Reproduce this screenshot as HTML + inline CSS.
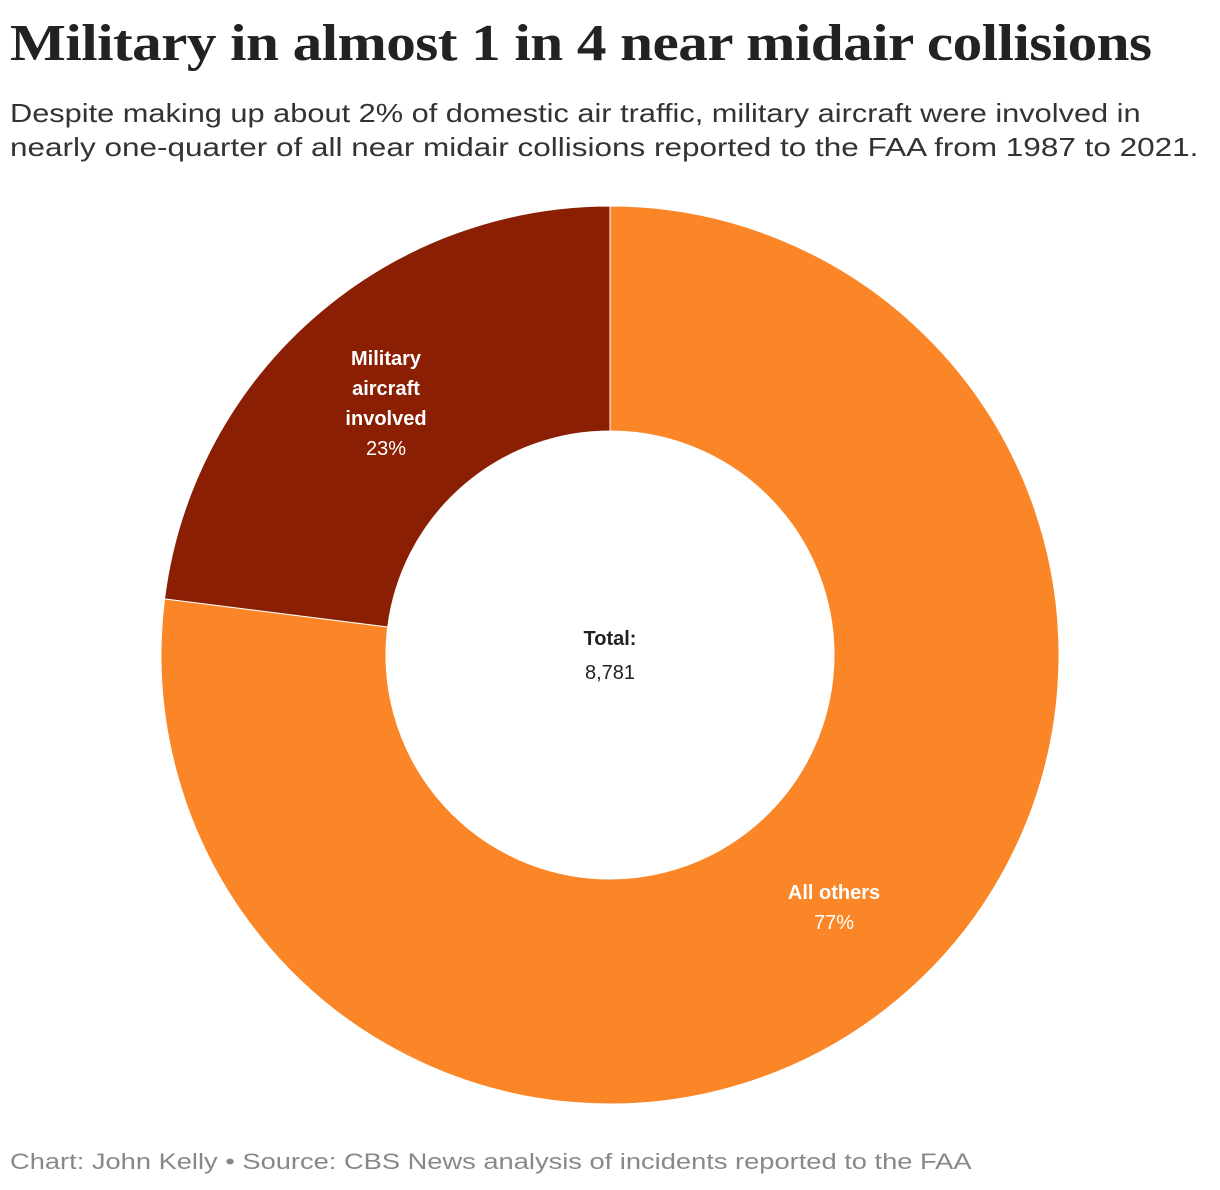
<!DOCTYPE html>
<html><head><meta charset="utf-8"><style>
body{margin:0;width:1220px;height:1190px;background:#fff;font-family:"Liberation Sans",sans-serif;position:relative;overflow:hidden}
h1{position:absolute;left:10px;top:14px;margin:0;font-family:"Liberation Serif",serif;font-weight:bold;font-size:52px;letter-spacing:-0.5px;color:#222;white-space:nowrap;transform-origin:left top}
.sub{position:absolute;left:10px;top:96px;font-size:26px;line-height:34px;color:#333}
.sub span{display:block;white-space:nowrap;transform-origin:left top}
.foot{position:absolute;left:10px;top:1149px;font-size:22px;color:#888;white-space:nowrap;transform-origin:left top}
svg{position:absolute;left:0;top:0}
</style></head><body>
<h1 id="t">Military in almost 1 in 4 near midair collisions</h1>
<div class="sub"><span id="s1">Despite making up about 2% of domestic air traffic, military aircraft were involved in</span><span id="s2">nearly one-quarter of all near midair collisions reported to the FAA from 1987 to 2021.</span></div>
<svg id="chart" width="1220" height="1190"></svg>
<div class="foot" id="f">Chart: John Kelly • Source: CBS News analysis of incidents reported to the FAA</div>
<script>
const categories=["All others","Military aircraft involved"];
const values=[6761,2020];
const colors=["#fb8628","#8a1f03"];
const cx=610,cy=655,R=449,r=224;
const svg=document.getElementById('chart');
const NS="http://www.w3.org/2000/svg";
const total=values.reduce((a,b)=>a+b,0);
function fit(id,w){const e=document.getElementById(id);e.style.transform='scaleX('+(w/e.scrollWidth)+')';}
fit('t',1142);fit('s1',1160);fit('s2',1188);fit('f',962);
function pt(a,rad){return [cx+rad*Math.sin(a),cy-rad*Math.cos(a)];}
let start=0;
values.forEach((v,i)=>{
  const sweep=v/total*2*Math.PI,end=start+sweep;
  const large=sweep>Math.PI?1:0;
  const [x1,y1]=pt(start,R),[x2,y2]=pt(end,R),[x3,y3]=pt(end,r),[x4,y4]=pt(start,r);
  const p=document.createElementNS(NS,'path');
  p.setAttribute('d',`M${x1},${y1}A${R},${R} 0 ${large} 1 ${x2},${y2}L${x3},${y3}A${r},${r} 0 ${large} 0 ${x4},${y4}Z`);
  p.setAttribute('fill',colors[i]);p.setAttribute('stroke','#fff');p.setAttribute('stroke-width','1');
  
  
  svg.appendChild(p);
  start=end;
});
function txt(x,y,s,bold,fill,name){
  const t=document.createElementNS(NS,'text');
  t.setAttribute('x',x);t.setAttribute('y',y);t.setAttribute('text-anchor','middle');
  t.setAttribute('font-size','20');t.setAttribute('fill',fill);
  if(bold)t.setAttribute('font-weight','bold');
  t.textContent=s;
  
  
  svg.appendChild(t);
}
const pct=values.map(v=>Math.round(v/total*100)+'%');
txt(386,365,'Military',1,'#fff','military-label');
txt(386,395,'aircraft',1,'#fff','military-label');
txt(386,425,'involved',1,'#fff','military-label');
txt(386,455,pct[1],0,'#fff','military-pct');
txt(834,899,categories[0],1,'#fff','others-label');
txt(834,929,pct[0],0,'#fff','others-pct');
txt(610,645,'Total:',1,'#222','total-label');
txt(610,679,total.toLocaleString('en-US'),0,'#222','total-value');
</script>
</body></html>
